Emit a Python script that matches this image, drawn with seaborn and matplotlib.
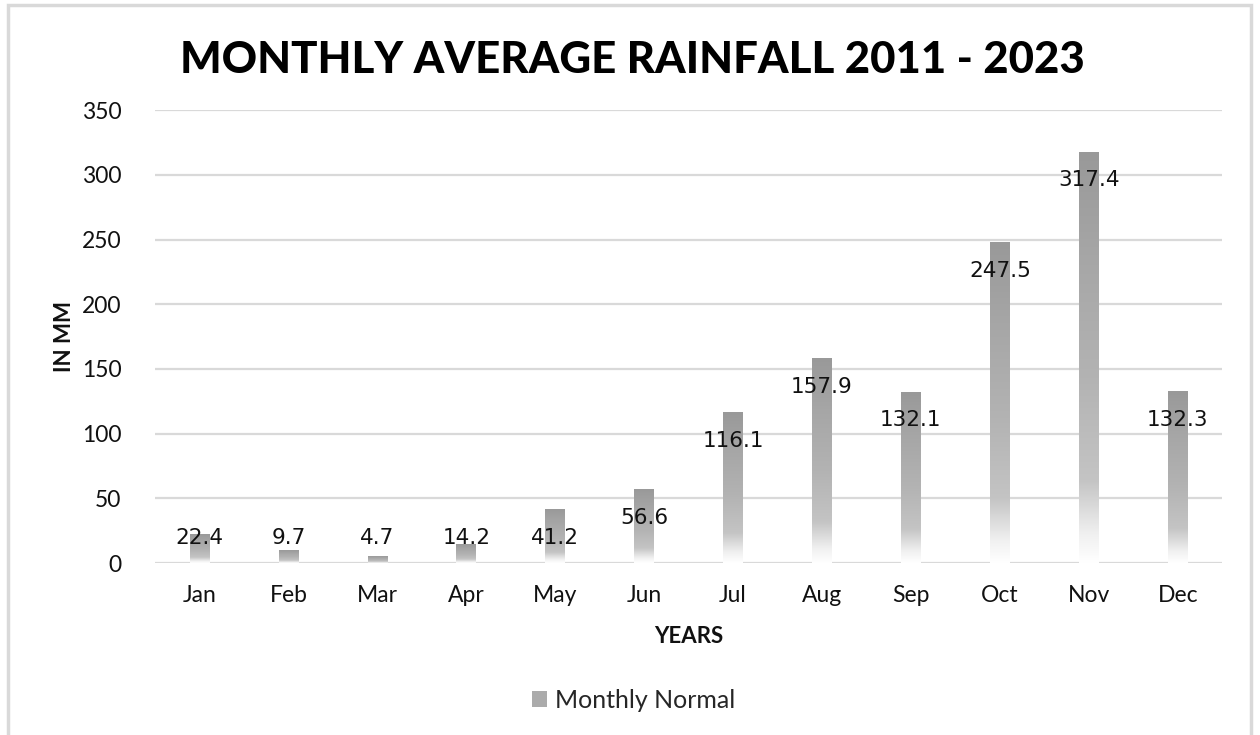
import numpy as np
import pandas as pd
import matplotlib
matplotlib.use("Agg")
import matplotlib.pyplot as plt
import seaborn as sns
from matplotlib.colors import LinearSegmentedColormap
from matplotlib.patches import Rectangle

months = ["Jan", "Feb", "Mar", "Apr", "May", "Jun",
          "Jul", "Aug", "Sep", "Oct", "Nov", "Dec"]
rainfall = [22.4, 9.7, 4.7, 14.2, 41.2, 56.6,
            116.1, 157.9, 132.1, 247.5, 317.4, 132.3]
series_name = "Monthly Normal"
title = "MONTHLY AVERAGE RAINFALL 2011 - 2023"
y_ticks = [0, 50, 100, 150, 200, 250, 300, 350]

df = pd.DataFrame({"Month": months, "Rainfall": rainfall})

sns.set_theme(style="white")
plt.rcParams["font.family"] = ["Lato", "DejaVu Sans"]

fig = plt.figure(figsize=(12.6, 7.35), dpi=100)
ax = fig.add_axes([0.123, 0.234, 0.847, 0.616])

sns.barplot(data=df, x="Month", y="Rainfall", color="#a0a0a0",
            width=0.22, ax=ax, zorder=3)

# vertical gray-to-white fill for each bar
grad_cmap = LinearSegmentedColormap.from_list(
    "fade", [(0.0, "#ffffff"), (0.07, "#f0f0f0"), (0.2, "#c4c4c4"),
             (0.45, "#b3b3b3"), (0.75, "#a6a6a6"), (1.0, "#999999")])
grad = np.linspace(0, 1, 256).reshape(-1, 1)
for patch in ax.patches:
    x0, y0 = patch.get_x(), patch.get_y()
    w, h = patch.get_width(), patch.get_height()
    patch.set_facecolor("none")
    patch.set_edgecolor("none")
    ax.imshow(grad, cmap=grad_cmap, origin="lower", aspect="auto",
              extent=[x0, x0 + w, y0, y0 + h], zorder=3, interpolation="bicubic")
ax.set_ylim(0, 350)
ax.set_xlim(-0.5, len(months) - 0.5)

# value labels just inside the top of each bar
for i, v in enumerate(rainfall):
    ly = max(v - 21.6, 19.3)
    ax.text(i, ly, f"{v:.1f}", ha="center", va="center", fontsize=15.5,
            family="DejaVu Sans", color="#111111", zorder=5)

ax.set_yticks(y_ticks)
ax.yaxis.grid(True, color="#d9d9d9", linewidth=1.6, zorder=0)
ax.set_axisbelow(True)
for s in ax.spines.values():
    s.set_visible(False)
ax.tick_params(axis="both", length=0, labelsize=16.5, colors="#111111")
ax.tick_params(axis="y", pad=24)
ax.tick_params(axis="x", pad=16)

ax.set_xlabel("YEARS", fontsize=16, fontweight="bold", color="#111111", labelpad=14)
ax.set_ylabel("IN MM", fontsize=16, fontweight="bold", color="#111111", labelpad=5)

fig.text(0.502, 0.919, title, ha="center", va="center", fontsize=31.5,
         fontweight="black", color="#000000")

leg_handle = Rectangle((0, 0), 1, 1, facecolor="#ababab", edgecolor="none")
fig.legend([leg_handle], [series_name], loc="center", bbox_to_anchor=(0.503, 0.047),
           frameon=False, fontsize=18, handlelength=0.6, handleheight=0.6,
           handletextpad=0.3)

# outer chart frame
fig.patches.append(Rectangle((0.006, -0.01), 0.987, 1.003, transform=fig.transFigure,
                             fill=False, edgecolor="#d9d9d9", linewidth=2.5))

fig.savefig("out.png", dpi=100, facecolor="white")
